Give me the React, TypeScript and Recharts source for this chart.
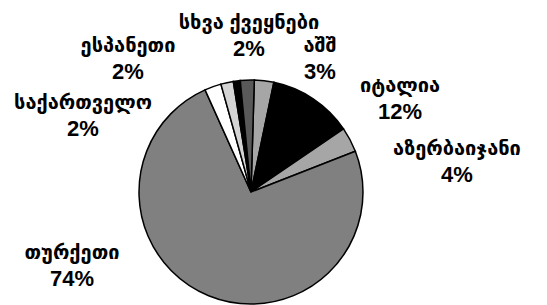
import { PieChart, Pie, Cell } from 'recharts'

// ქვეყნები, საათის ისრის მიმართულებით ზემოდან
const countries = ['აშშ', 'იტალია', 'აზერბაიჯანი', 'თურქეთი', 'საქართველო', 'ესპანეთი', '', 'სხვა ქვეყნები']
const shares = [2.8, 12.2, 3.6, 74.2, 2.4, 1.8, 1.0, 2.0]
const colors = ['#a6a6a6', '#000000', '#a6a6a6', '#808080', '#ffffff', '#d4d4d4', '#000000', '#595959']

// label placement relative to pie centre (layout only)
const LABEL_OFFSETS: ([number, number] | null)[] = [
  [69, -147],
  [149, -107],
  [206, -44],
  [-179, 60],
  [-168, -90],
  [-123, -147],
  null,
  [-2, -170],
]

const data = countries.map((name, i) => ({ name, value: shares[i] }))

const FONT = '"Liberation Sans", "DejaVu Sans", sans-serif'

function renderLabel(props: any) {
  const { cx, cy, index, value } = props
  const off = LABEL_OFFSETS[index]
  if (!off) return null
  const x = cx + off[0]
  const y = cy + off[1]
  return (
    <g key={`lbl-${index}`}>
      <text x={x} y={y} textAnchor="middle" dominantBaseline="central" fontSize={20} fontWeight="bold" fontFamily={FONT} fill="#000">
        {countries[index]}
      </text>
      <text x={x} y={y + 26} textAnchor="middle" dominantBaseline="central" fontSize={22} fontWeight="bold" fontFamily={FONT} fill="#000">
        {`${Math.round(value)}%`}
      </text>
    </g>
  )
}

export default function App() {
  return (
    <div style={{ position: 'absolute', left: 0, top: 0, width: 547, height: 305, background: '#fff' }}>
      <PieChart width={547} height={305} margin={{ top: 0, right: 0, bottom: 0, left: 0 }}>
        <Pie
          data={data}
          dataKey="value"
          nameKey="name"
          cx={251}
          cy={192}
          outerRadius={112}
          startAngle={88.3}
          endAngle={-271.7}
          stroke="#000"
          strokeWidth={1.5}
          label={renderLabel}
          labelLine={false}
          isAnimationActive={false}
        >
          {data.map((_, idx) => (
            <Cell key={idx} fill={colors[idx]} stroke="#000" strokeWidth={1.5} />
          ))}
        </Pie>
      </PieChart>
    </div>
  )
}
